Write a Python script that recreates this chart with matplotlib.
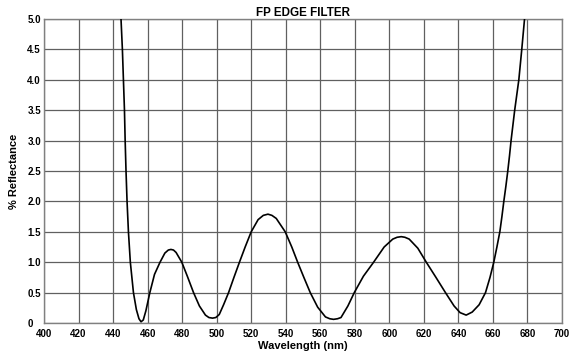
import matplotlib
matplotlib.use("Agg")
import matplotlib.pyplot as plt

wavelength = [444.6, 445.4, 446.0, 446.6, 447.0, 447.5, 448.1, 448.9, 450.0, 451.8,
              453.5, 455.0, 456.2, 457.5, 459.0, 461.3, 464.0, 467.2, 470.0, 472.0,
              473.5, 475.0, 476.5, 479.8, 483.0, 486.6, 490.0, 493.5, 495.5, 497.6,
              499.5, 501.5, 504.0, 506.9, 510.0, 513.2, 516.5, 520.0, 524.0, 527.0,
              529.7, 532.0, 534.5, 539.7, 543.5, 546.9, 550.5, 554.2, 558.5, 563.0,
              565.5, 567.7, 570.0, 572.0, 576.0, 579.7, 585.0, 590.9, 597.0, 602.0,
              604.5, 606.9, 609.0, 611.5, 616.5, 621.4, 627.0, 632.5, 637.5, 641.0,
              644.5, 648.0, 652.0, 655.7, 658.3, 660.5, 662.3, 664.0, 665.2, 666.3,
              667.5, 668.6, 669.6, 670.5, 672.6, 675.0, 676.7, 678.3]
reflectance = [5.0, 4.5, 4.0, 3.5, 3.0, 2.5, 2.0, 1.5, 1.0, 0.5,
               0.22, 0.07, 0.02, 0.05, 0.2, 0.5, 0.8, 1.0, 1.15, 1.2,
               1.21, 1.2, 1.16, 1.0, 0.77, 0.5, 0.28, 0.13, 0.09, 0.08,
               0.09, 0.14, 0.3, 0.5, 0.75, 1.0, 1.25, 1.5, 1.7, 1.77,
               1.79, 1.77, 1.72, 1.5, 1.25, 1.0, 0.75, 0.5, 0.26, 0.1,
               0.07, 0.06, 0.07, 0.09, 0.28, 0.5, 0.77, 1.0, 1.25, 1.38,
               1.41, 1.42, 1.41, 1.38, 1.23, 1.0, 0.75, 0.5, 0.28, 0.17,
               0.13, 0.18, 0.3, 0.5, 0.75, 1.0, 1.25, 1.5, 1.75, 2.0,
               2.25, 2.5, 2.75, 3.0, 3.5, 4.0, 4.5, 5.0]

x_ticks = list(range(400, 701, 20))
y_ticks = [0, 0.5, 1.0, 1.5, 2.0, 2.5, 3.0, 3.5, 4.0, 4.5, 5.0]
y_labels = ["0", "0.5", "1.0", "1.5", "2.0", "2.5", "3.0", "3.5", "4.0", "4.5", "5.0"]

plt.rcParams['font.family'] = ['Liberation Sans', 'DejaVu Sans']

fig = plt.figure(figsize=(5.69, 3.56), dpi=100)
ax = fig.add_axes([44/569, 33/356, 518/569, 304/356])
ax.plot(wavelength, reflectance, color='black', linewidth=1.2, zorder=3)
ax.set_xlim(400, 700)
ax.set_ylim(0, 5)
ax.set_xticks(x_ticks)
ax.set_xticklabels([str(v) for v in x_ticks], fontsize=7, fontweight='bold')
ax.set_yticks(y_ticks)
ax.set_yticklabels(y_labels, fontsize=7, fontweight='bold', ha='left')
ax.tick_params(axis='x', length=0, pad=4)
ax.tick_params(axis='y', length=0, pad=12)
ax.grid(True, color='#606060', linewidth=0.9)
for s in ax.spines.values():
    s.set_color('#808080')
    s.set_linewidth(1.0)
ax.set_xlabel("Wavelength (nm)", fontsize=8, fontweight='bold', labelpad=2)
ax.set_ylabel("% Reflectance", fontsize=8, fontweight='bold', labelpad=6)
ax.set_title("FP EDGE FILTER", fontsize=8.4, fontweight='bold', pad=2)
fig.savefig("out.png", dpi=100)
